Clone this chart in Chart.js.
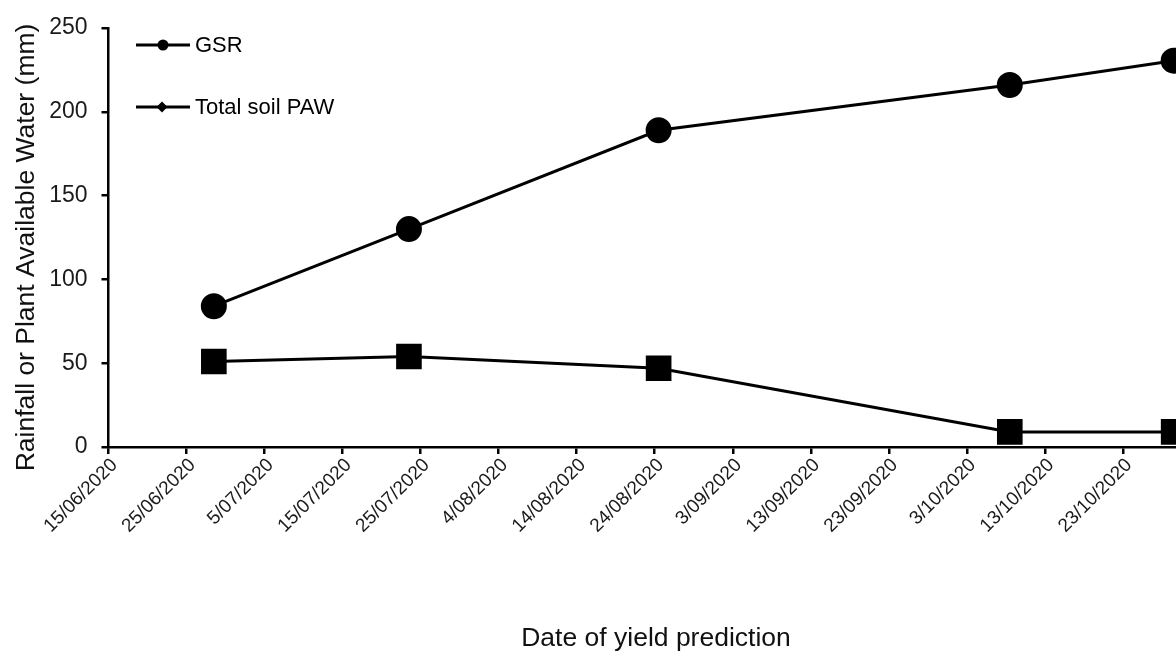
<!DOCTYPE html>
<html>
<head>
<meta charset="utf-8">
<script src="https://cdn.jsdelivr.net/npm/chart.js@4/dist/chart.umd.min.js"></script>
<style>
  html, body { margin: 0; padding: 0; background: #fff; overflow: hidden; }
  #wrap { width: 1176px; height: 652px; }
</style>
</head>
<body>
<div id="wrap"><canvas id="c" width="1176" height="652"></canvas></div>
<script>
// dates of yield prediction (d/mm/yyyy hh:mm)
const predictionDates = ['28/06/2020 12:00', '23/07/2020 12:00', '24/08/2020 12:00', '8/10/2020 12:00', '29/10/2020 12:00']
const gsr = [84, 130, 189, 216, 230.5]
const totalSoilPaw = [51, 54, 47, 9, 9]
const axisStart = '15/06/2020'
const axisEndDays = 136.8   // picture is cropped just before 2/11/2020
const yTicks = [0, 50, 100, 150, 200, 250]

const parseDate = s => {
  const [date, time = '0:00'] = s.split(' ')
  const [d, m, y] = date.split('/').map(Number)
  const [hh, mm] = time.split(':').map(Number)
  return Date.UTC(y, m - 1, d, hh, mm)
}
const DAY = 86400000
const start = parseDate(axisStart)
const toDays = s => (parseDate(s) - start) / DAY
const fmtDays = v => {
  const dt = new Date(start + v * DAY)
  return dt.getUTCDate() + '/' + String(dt.getUTCMonth() + 1).padStart(2, '0') + '/' + dt.getUTCFullYear()
}

const FONT = '"Liberation Sans", Arial, sans-serif'

// legend in the top-left corner plus both axis titles
const annotations = {
  id: 'annotations',
  afterDraw(chart) {
    const ctx = chart.ctx
    const area = chart.chartArea
    ctx.save()
    ctx.strokeStyle = '#000'
    ctx.fillStyle = '#000'
    ctx.lineWidth = 3
    ctx.font = '22px ' + FONT
    ctx.textBaseline = 'middle'
    ctx.textAlign = 'left'
    // GSR
    ctx.beginPath(); ctx.moveTo(136, 45); ctx.lineTo(190, 45); ctx.stroke()
    ctx.beginPath(); ctx.arc(163, 45, 5.5, 0, Math.PI * 2); ctx.fill()
    ctx.fillText('GSR', 195, 46)
    // Total soil PAW
    ctx.beginPath(); ctx.moveTo(136, 107); ctx.lineTo(190, 107); ctx.stroke()
    ctx.beginPath(); ctx.moveTo(162, 101.5); ctx.lineTo(167.5, 107); ctx.lineTo(162, 112.5); ctx.lineTo(156.5, 107); ctx.closePath(); ctx.fill()
    ctx.fillText('Total soil PAW', 195, 108)

    // axis titles
    ctx.font = '26.5px ' + FONT
    ctx.fillStyle = '#111'
    ctx.textAlign = 'center'
    ctx.textBaseline = 'alphabetic'
    ctx.fillText('Date of yield prediction', 656, 646)
    ctx.translate(34, (area.top + area.bottom) / 2 + 10)
    ctx.rotate(-Math.PI / 2)
    ctx.fillText('Rainfall or Plant Available Water (mm)', 0, 0)
    ctx.restore()
  }
}

new Chart(document.getElementById('c'), {
  type: 'line',
  data: {
    datasets: [
      {
        label: 'GSR',
        data: predictionDates.map((d, i) => ({ x: toDays(d), y: gsr[i] })),
        borderColor: '#000',
        backgroundColor: '#000',
        borderWidth: 3,
        pointStyle: 'circle',
        pointRadius: 11.5,
        pointHoverRadius: 11.5,
        clip: false
      },
      {
        label: 'Total soil PAW',
        data: predictionDates.map((d, i) => ({ x: toDays(d), y: totalSoilPaw[i] })),
        borderColor: '#000',
        backgroundColor: '#000',
        borderWidth: 3,
        pointStyle: 'rect',
        pointRadius: 16,
        pointHoverRadius: 16,
        clip: false
      }
    ]
  },
  options: {
    responsive: false,
    animation: false,
    events: [],
    layout: { autoPadding: false, padding: { top: 28, right: 0, left: 0, bottom: 0 } },
    plugins: { legend: { display: false }, tooltip: { enabled: false } },
    scales: {
      x: {
        type: 'linear',
        min: 0,
        max: axisEndDays,
        afterFit: s => { s.height = 205; s.paddingRight = 0 },
        border: { color: '#000', width: 2.5 },
        grid: { drawOnChartArea: false, drawTicks: true, tickLength: 7, color: '#000', lineWidth: 2.5 },
        ticks: {
          stepSize: 10,
          includeBounds: false,
          autoSkip: false,
          maxRotation: 45,
          minRotation: 45,
          labelOffset: 6,
          color: '#1a1a1a',
          padding: 0,
          font: { family: FONT, size: 19 },
          callback: v => fmtDays(v)
        }
      },
      y: {
        min: 0,
        max: 250,
        afterFit: s => { s.width = 108.5 },
        afterBuildTicks: s => { s.ticks = yTicks.map(v => ({ value: v })) },
        border: { color: '#000', width: 2.5 },
        grid: { drawOnChartArea: false, drawTicks: true, tickLength: 7, color: '#000', lineWidth: 2.5 },
        ticks: {
          color: '#1a1a1a',
          padding: 14,
          font: { family: FONT, size: 23 }
        }
      }
    }
  },
  plugins: [annotations]
})
</script>
</body>
</html>
